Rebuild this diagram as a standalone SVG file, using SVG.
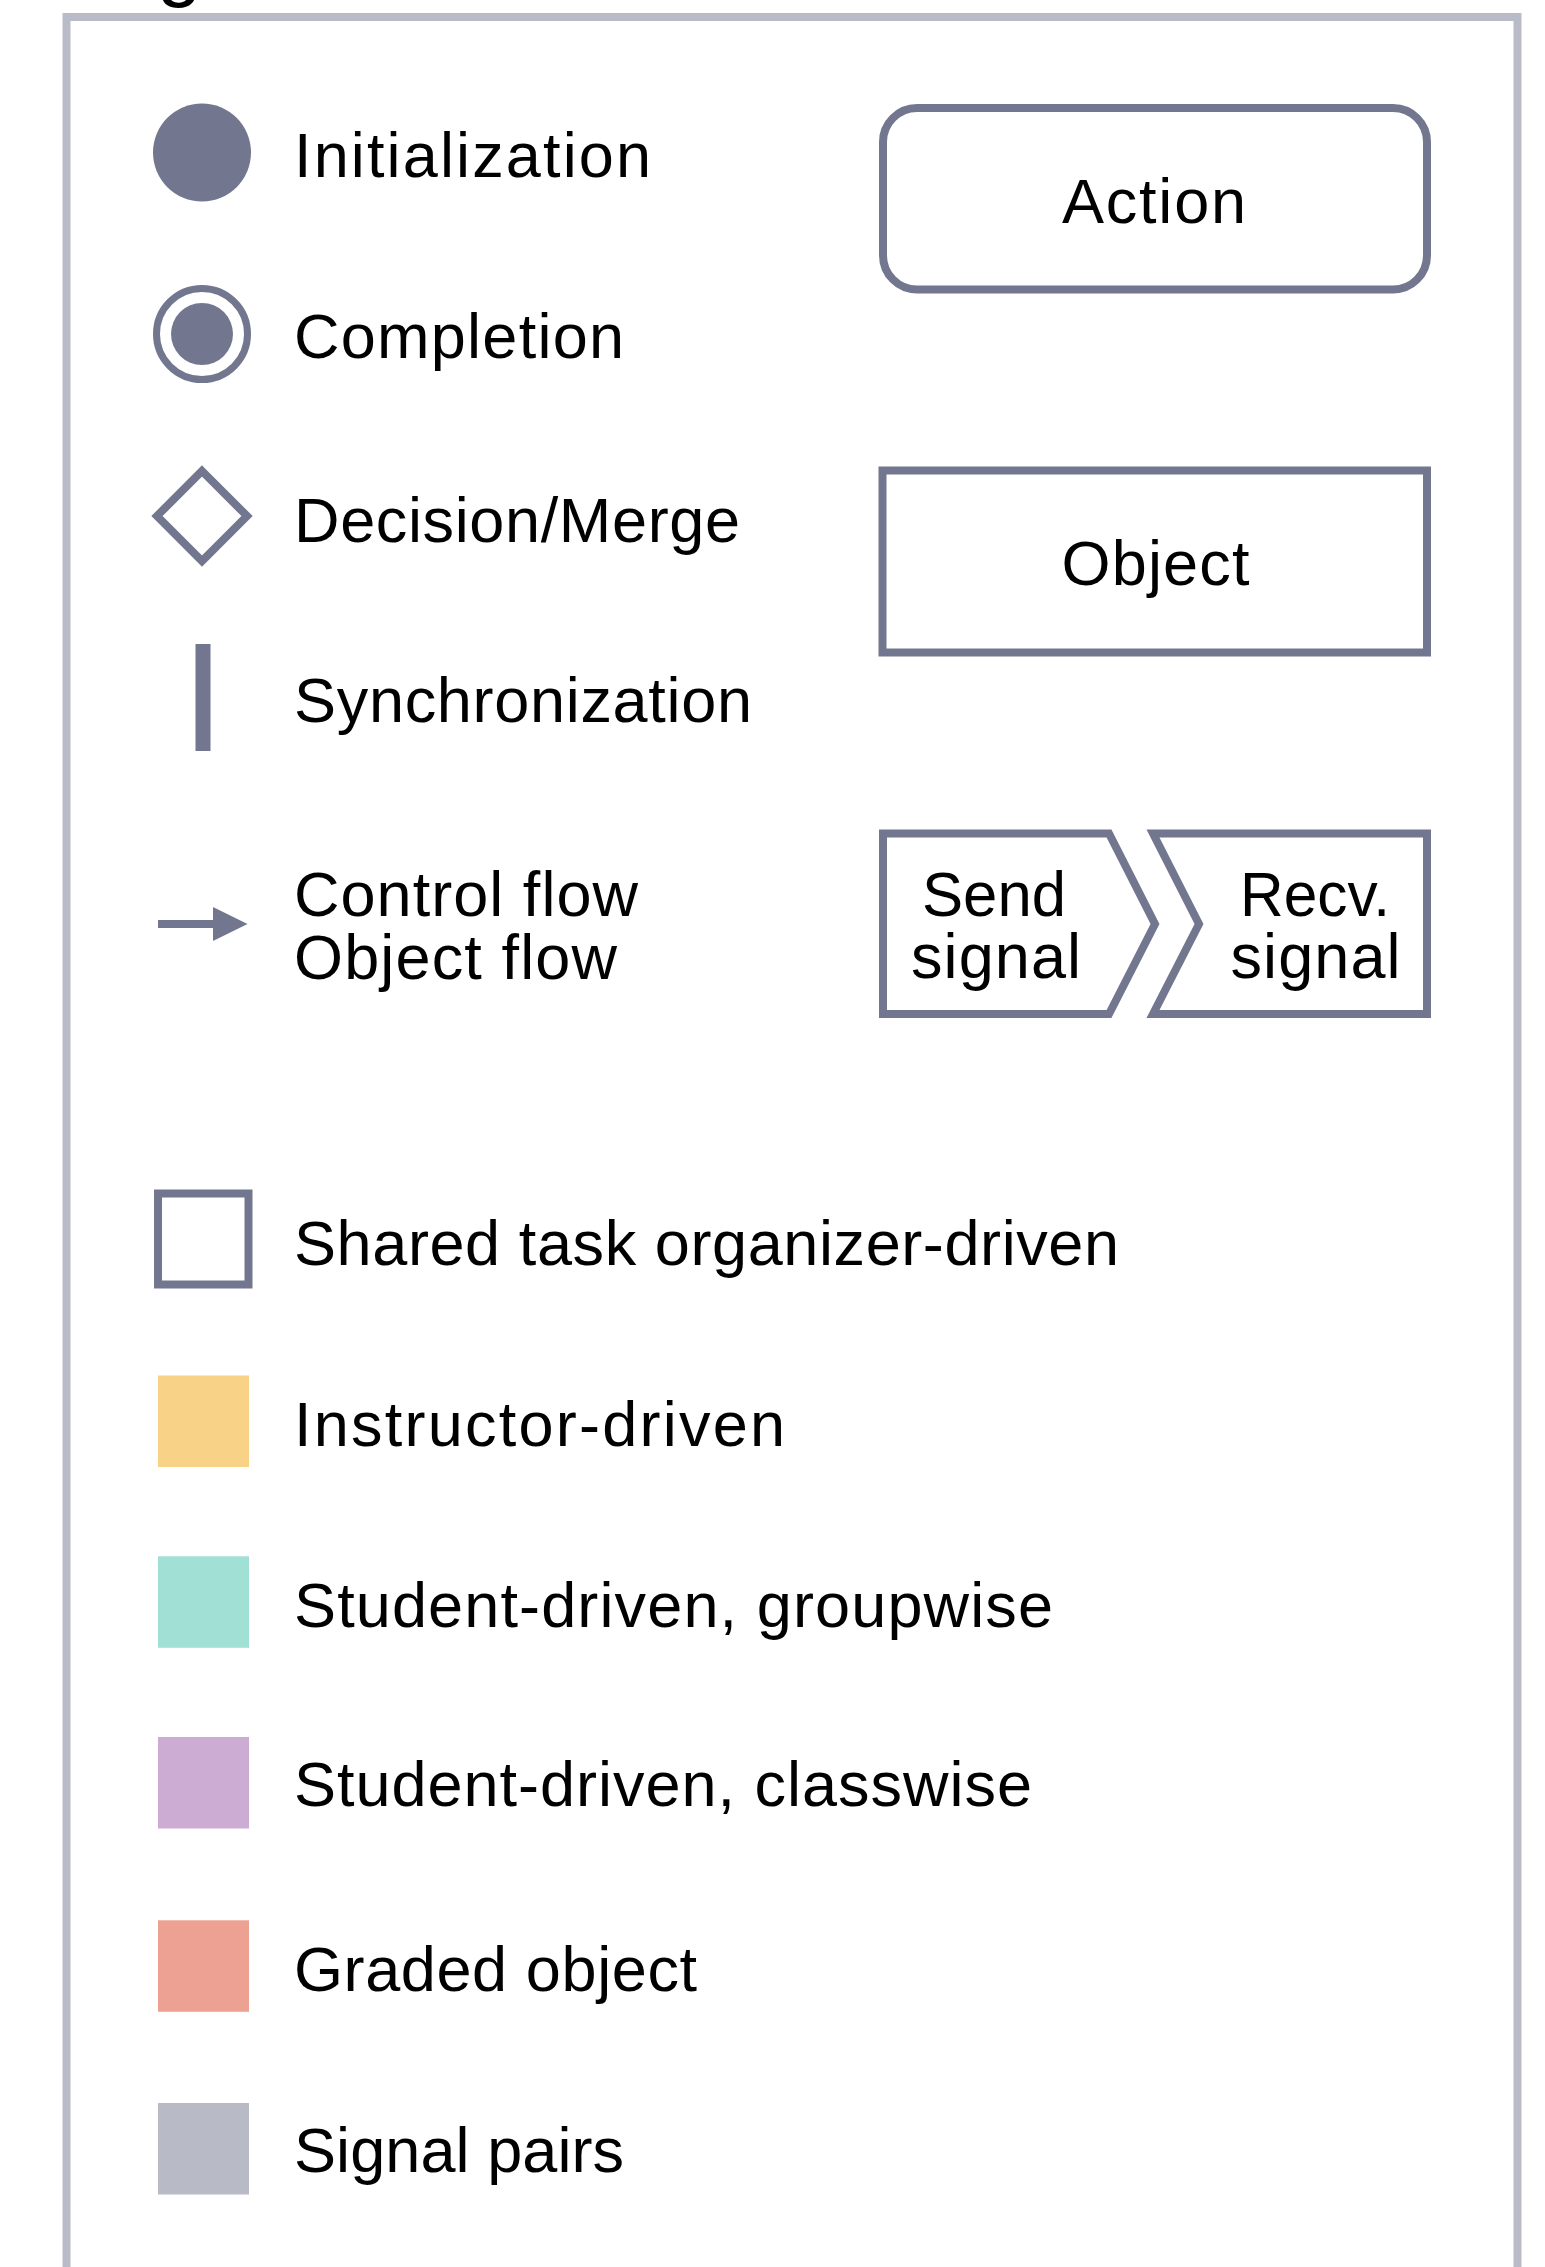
<svg xmlns="http://www.w3.org/2000/svg" width="1545" height="2267" viewBox="0 0 1545 2267">
<style>
  .lbl{font-family:"Liberation Sans",Arial,sans-serif;font-size:63px;fill:#000}
  .ctr{text-anchor:middle}
  .shape{fill:#fff;stroke:#72778F;stroke-width:8;stroke-linejoin:miter}
  .solid{fill:#72778F}
  .frame{fill:none;stroke:#B9BBC8;stroke-width:8}
  .conn{stroke:#72778F;stroke-width:8;fill:none}
</style>
<defs>
  <marker id="arrowhead" markerUnits="userSpaceOnUse" markerWidth="36" markerHeight="36" refX="0" refY="17" orient="auto">
    <polygon points="0,0 34.5,17 0,34" fill="#72778F"/>
  </marker>
</defs>
<rect width="1545" height="2267" fill="#fff"/>
<text x="157" y="-9.5" font-family="Liberation Sans, Arial, sans-serif" font-size="80">g</text>
<rect class="frame" x="66.5" y="17" width="1451" height="2320"/>

<g id="node-initialization">
  <circle class="solid" cx="202" cy="152.5" r="49"/>
  <text class="lbl" x="294" y="176.7" textLength="357" lengthAdjust="spacing">Initialization</text>
</g>
<g id="node-completion">
  <circle cx="202" cy="334" r="45.5" fill="#fff" stroke="#72778F" stroke-width="7"/>
  <circle class="solid" cx="202" cy="334" r="31"/>
  <text class="lbl" x="294" y="358" textLength="330" lengthAdjust="spacing">Completion</text>
</g>
<g id="node-decision">
  <polygon class="shape" stroke-width="7.5" points="202,471 247,516 202,561 157,516"/>
  <text class="lbl" x="294" y="542" textLength="446" lengthAdjust="spacing">Decision/Merge</text>
</g>
<g id="node-sync">
  <rect class="solid" x="195.5" y="644" width="15" height="107"/>
  <text class="lbl" x="294" y="721.6" textLength="458" lengthAdjust="spacing">Synchronization</text>
</g>
<g id="node-flow">
  <text class="lbl"><tspan x="294" y="916" textLength="344" lengthAdjust="spacing">Control flow</tspan><tspan x="294" y="978.5" textLength="323" lengthAdjust="spacing">Object flow</tspan></text>
</g>
<g id="node-action">
  <rect class="shape" x="883" y="108" width="544" height="181.5" rx="34" ry="34"/>
  <text class="lbl ctr" x="1154" y="222.7" textLength="184" lengthAdjust="spacing">Action</text>
</g>
<g id="node-object">
  <rect class="shape" x="882.5" y="470.5" width="544.5" height="182"/>
  <text class="lbl ctr" x="1155.5" y="585.3" textLength="188" lengthAdjust="spacing">Object</text>
</g>
<g id="node-send-signal">
  <path class="shape" d="M883,833.5 H1109 L1155,924 L1109,1014 H883 Z"/>
  <text class="lbl ctr"><tspan x="994" y="916" textLength="144" lengthAdjust="spacingAndGlyphs">Send</tspan><tspan x="996" y="978" textLength="170" lengthAdjust="spacing">signal</tspan></text>
</g>
<g id="node-recv-signal">
  <path class="shape" d="M1153,833.5 H1427 V1014 H1153 L1199,924 Z"/>
  <text class="lbl ctr"><tspan x="1315" y="916" textLength="150" lengthAdjust="spacingAndGlyphs">Recv.</tspan><tspan x="1315.5" y="978" textLength="170" lengthAdjust="spacing">signal</tspan></text>
</g>
<g id="node-shared-task">
  <rect class="shape" x="158" y="1193.5" width="90.5" height="91"/>
  <text class="lbl" x="294" y="1264.8" textLength="825" lengthAdjust="spacing">Shared task organizer-driven</text>
</g>
<g id="node-instructor">
  <rect x="158" y="1375.5" width="91" height="91.5" fill="#F8D287"/>
  <text class="lbl" x="294" y="1445.8" textLength="491" lengthAdjust="spacing">Instructor-driven</text>
</g>
<g id="node-groupwise">
  <rect x="158" y="1556.3" width="91" height="91.5" fill="#A1E0D5"/>
  <text class="lbl" x="294" y="1627.2" textLength="759" lengthAdjust="spacing">Student-driven, groupwise</text>
</g>
<g id="node-classwise">
  <rect x="158" y="1737" width="91" height="91.5" fill="#CDACD3"/>
  <text class="lbl" x="294" y="1806" textLength="738" lengthAdjust="spacing">Student-driven, classwise</text>
</g>
<g id="node-graded">
  <rect x="158" y="1920.3" width="91" height="91.5" fill="#ECA193"/>
  <text class="lbl" x="294" y="1990.7" textLength="403" lengthAdjust="spacing">Graded object</text>
</g>
<g id="node-signal-pairs">
  <rect x="158" y="2103" width="91" height="91.5" fill="#B8BAC6"/>
  <text class="lbl" x="294" y="2171.7" textLength="330" lengthAdjust="spacing">Signal pairs</text>
</g>

<g id="connectors">
  <line class="conn" x1="158" y1="924" x2="213" y2="924" marker-end="url(#arrowhead)"/>
</g>
</svg>
